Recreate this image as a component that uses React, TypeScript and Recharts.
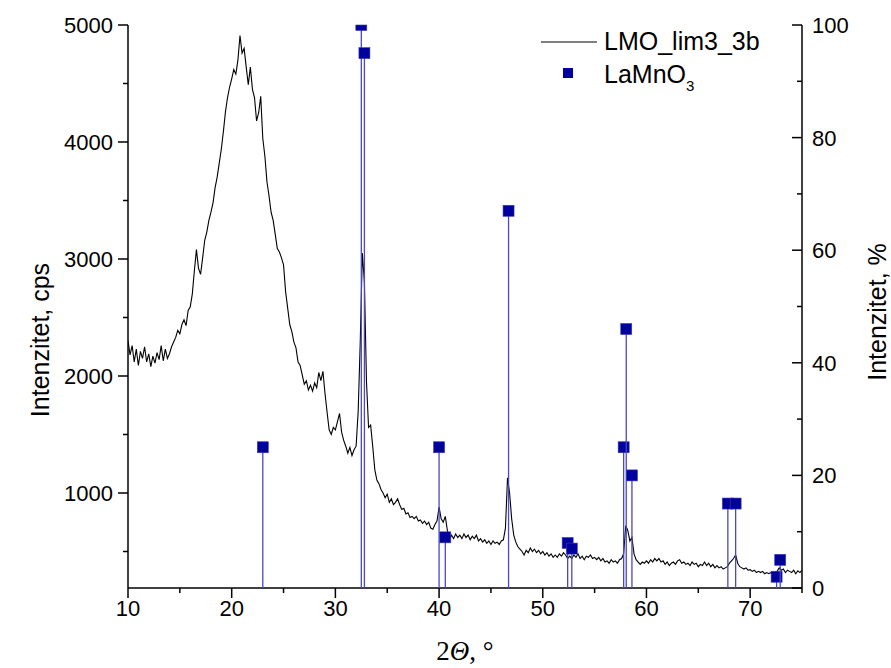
import React from 'react';
import { ComposedChart, Line, Scatter, XAxis, YAxis, Legend } from 'recharts';

// XRD scan, 10..75 deg 2theta, one reading every 0.2 deg (cps)
const SCAN_START = 10;
const SCAN_STEP = 0.2;
const scanCounts = [
  2300, 2180, 2260, 2120, 2230, // 10
  2090, 2210, 2150, 2250, 2120, // 11
  2190, 2080, 2170, 2110, 2200, // 12
  2140, 2260, 2130, 2230, 2150, // 13
  2190, 2250, 2290, 2330, 2390, // 14
  2360, 2440, 2480, 2430, 2560, // 15
  2590, 2700, 2900, 3080, 2920, // 16
  2870, 3010, 3160, 3230, 3330, // 17
  3400, 3480, 3610, 3700, 3820, // 18
  3940, 4090, 4260, 4380, 4470, // 19
  4540, 4620, 4580, 4700, 4910, // 20
  4760, 4800, 4640, 4490, 4640, // 21
  4450, 4380, 4180, 4250, 4390, // 22
  4030, 3880, 3660, 3540, 3400, // 23
  3330, 3210, 3090, 3060, 3010, // 24
  2950, 2720, 2580, 2440, 2380, // 25
  2290, 2240, 2120, 2090, 2010, // 26
  1930, 1960, 1880, 1920, 1870, // 27
  1940, 1900, 2030, 1960, 2040, // 28
  1850, 1690, 1540, 1500, 1560, // 29
  1540, 1610, 1680, 1520, 1450, // 30
  1400, 1340, 1390, 1320, 1370, // 31
  1400, 1700, 2300, 3050, 2800, // 32
  1950, 1560, 1580, 1400, 1200, // 33
  1110, 1080, 1030, 1000, 960, // 34
  990, 920, 950, 900, 920, // 35
  950, 900, 860, 870, 820, // 36
  830, 790, 800, 780, 800, // 37
  760, 770, 740, 760, 730, // 38
  750, 700, 690, 730, 760, // 39
  880, 780, 750, 800, 680, // 40
  600, 640, 610, 650, 620, // 41
  640, 610, 650, 620, 640, // 42
  600, 630, 610, 640, 590, // 43
  610, 580, 600, 570, 590, // 44
  560, 590, 570, 580, 560, // 45
  590, 600, 700, 1130, 1000, // 46
  780, 640, 580, 540, 520, // 47
  500, 470, 510, 490, 530, // 48
  500, 520, 490, 510, 480, // 49
  500, 470, 490, 460, 480, // 50
  450, 470, 450, 480, 460, // 51
  490, 470, 440, 460, 440, // 52
  470, 450, 480, 440, 460, // 53
  430, 460, 450, 470, 440, // 54
  450, 430, 450, 420, 440, // 55
  410, 420, 400, 430, 410, // 56
  420, 400, 430, 440, 480, // 57
  720, 680, 590, 620, 480, // 58
  430, 410, 390, 410, 400, // 59
  420, 400, 430, 410, 440, // 60
  420, 440, 410, 420, 390, // 61
  410, 380, 400, 410, 390, // 62
  420, 430, 400, 410, 390, // 63
  400, 380, 410, 390, 400, // 64
  370, 390, 380, 410, 380, // 65
  400, 370, 390, 360, 380, // 66
  360, 370, 350, 360, 370, // 67
  400, 420, 440, 470, 400, // 68
  370, 360, 350, 360, 340, // 69
  345, 330, 340, 320, 330, // 70
  320, 330, 310, 320, 310, // 71
  320, 300, 320, 330, 360, // 72
  340, 350, 320, 340, 330, // 73
  320, 340, 310, 335, 320, // 74
  340, // 75
];

// LaMnO3 reference pattern (relative intensity, %)
const stickAngles = [23.0, 32.5, 32.8, 40.0, 40.6, 46.7, 52.4, 52.8, 57.8, 58.05, 58.6, 67.85, 68.6, 72.55, 72.9];
const stickIntensities = [25, 100, 95, 25, 9, 67, 8, 7, 25, 46, 20, 15, 15, 2, 5];

const xTicks = [10, 15, 20, 25, 30, 35, 40, 45, 50, 55, 60, 65, 70, 75];
const cpsTicks = [500, 1000, 1500, 2000, 2500, 3000, 3500, 4000, 4500, 5000];
const pctTicks = [0, 10, 20, 30, 40, 50, 60, 70, 80, 90, 100];

const scan = scanCounts.map((cps, i) => ({ angle: +(SCAN_START + i * SCAN_STEP).toFixed(1), cps }));
const sticks = stickAngles.map((angle, i) => ({ angle, rel: stickIntensities[i] }));

const W = 891;
const H = 668;
const PLOT_TOP = 25;
const PLOT_BOTTOM = 588;
const FONT = '"Liberation Sans", Arial, sans-serif';
const SERIF = '"Liberation Serif", "Times New Roman", serif';
const STICK = '#4848c8';
const SQUARE = '#00009c';

const LeftTick = ({ x, y, payload }: any) => {
  const major = payload.value % 1000 === 0;
  return (
    <g>
      <line x1={x} x2={x - (major ? 10 : 5)} y1={y} y2={y} stroke="#000" strokeWidth={1.5} />
      {major && (
        <text x={x - 15} y={y} dy="0.36em" textAnchor="end" fontFamily={FONT} fontSize={22} fill="#000">
          {payload.value}
        </text>
      )}
    </g>
  );
};

const RightTick = ({ x, y, payload }: any) => {
  const major = payload.value % 20 === 0;
  return (
    <g>
      <line x1={x} x2={x - (major ? 10 : 5)} y1={y} y2={y} stroke="#000" strokeWidth={1.5} />
      {major && (
        <text x={x + 10} y={y} dy="0.36em" textAnchor="start" fontFamily={FONT} fontSize={22} fill="#000">
          {payload.value}
        </text>
      )}
    </g>
  );
};

const BottomTick = ({ x, y, payload }: any) => {
  const major = payload.value % 10 === 0;
  return (
    <g>
      <line x1={x} x2={x} y1={y} y2={y + (major ? 10 : 5)} stroke="#000" strokeWidth={1.5} />
      {major && (
        <text x={x} y={y + 12} dy="0.72em" textAnchor="middle" fontFamily={FONT} fontSize={22} fill="#000">
          {payload.value}
        </text>
      )}
    </g>
  );
};

const StickShape = ({ cx, cy }: any) => {
  const s = 11;
  const top = Math.max(cy - s / 2, PLOT_TOP);
  return (
    <g>
      <line x1={cx} x2={cx} y1={cy} y2={PLOT_BOTTOM} stroke={STICK} strokeWidth={1.3} />
      <rect x={cx - s / 2} y={top} width={s} height={cy + s / 2 - top} fill={SQUARE} stroke="#3a3ab8" strokeWidth={0.6} />
    </g>
  );
};

const LegendBox = () => (
  <svg width={260} height={80}>
    <line x1={11} x2={67} y1={22} y2={22} stroke="#000" strokeWidth={1} />
    <text x={74} y={30} fontFamily={FONT} fontSize={25} fill="#000">LMO_lim3_3b</text>
    <rect x={33} y={48} width={10} height={10} fill={SQUARE} />
    <text x={74} y={63} fontFamily={FONT} fontSize={25} fill="#000">
      LaMnO<tspan fontSize={15} dy={8}>3</tspan>
    </text>
  </svg>
);

export default function App() {
  return (
    <div style={{ position: 'absolute', left: 0, top: 0, width: W, height: H, background: '#fff' }}>
      <ComposedChart width={W} height={H} margin={{ top: PLOT_TOP, right: 29, bottom: 0, left: 0 }}>
        <XAxis
          dataKey="angle"
          type="number"
          domain={[10, 75]}
          ticks={xTicks}
          allowDataOverflow
          height={H - PLOT_BOTTOM}
          tickSize={0}
          tickMargin={0}
          tick={<BottomTick />}
          interval={0}
          axisLine={{ stroke: '#000', strokeWidth: 1.5 }}
          label={{
            content: () => (
              <text x={465} y={660} textAnchor="middle" fontFamily={SERIF} fontSize={27} fill="#000">
                2<tspan fontStyle="italic">Θ</tspan>, °
              </text>
            ),
          }}
        />
        <YAxis
          yAxisId="left"
          type="number"
          domain={[188, 5000]}
          ticks={cpsTicks}
          allowDataOverflow
          width={128}
          tickSize={0}
          tickMargin={0}
          tick={<LeftTick />}
          interval={0}
          axisLine={{ stroke: '#000', strokeWidth: 1.5 }}
          label={{
            content: () => (
              <text x={40} y={340} transform="rotate(-90 40 340)" dy="0.35em" textAnchor="middle" fontFamily={FONT} fontSize={25} fill="#000">
                Intenzitet, cps
              </text>
            ),
          }}
        />
        <YAxis
          yAxisId="right"
          orientation="right"
          type="number"
          domain={[0, 100]}
          ticks={pctTicks}
          width={60}
          tickSize={0}
          tickMargin={0}
          tick={<RightTick />}
          interval={0}
          axisLine={{ stroke: '#000', strokeWidth: 1.5 }}
          label={{
            content: () => (
              <text x={877} y={312} transform="rotate(-90 877 312)" dy="0.35em" textAnchor="middle" fontFamily={FONT} fontSize={25} fill="#000">
                Intenzitet, %
              </text>
            ),
          }}
        />
        <Legend
          layout="horizontal"
          verticalAlign="middle"
          align="center"
          content={<LegendBox />}
          wrapperStyle={{ position: 'absolute', left: 530, top: 20, width: 260, height: 80 }}
        />
        <Line
          data={scan}
          dataKey="cps"
          yAxisId="left"
          type="linear"
          stroke="#000"
          strokeWidth={1.1}
          dot={false}
          activeDot={false}
          isAnimationActive={false}
        />
        <Scatter
          data={sticks}
          dataKey="rel"
          yAxisId="right"
          shape={<StickShape />}
          isAnimationActive={false}
        />
      </ComposedChart>
    </div>
  );
}
